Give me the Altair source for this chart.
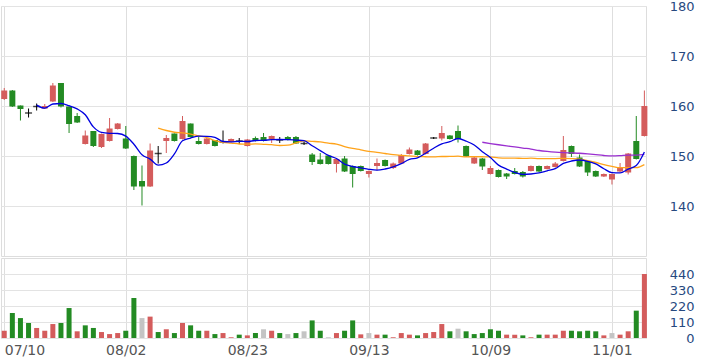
import altair as alt
import pandas as pd

tick_index = [0, 15, 30, 45, 60, 75]
tick_dates = ["07/10", "08/02", "08/23", "09/13", "10/09", "11/01"]
price_ticks = [140, 150, 160, 170, 180]
volume_ticks = [0, 110, 220, 330, 440]

opens = [161.4, 163.1, 160.1, 158.6, 159.9, 159.5, 160.9, 164.6, 159.9, 158.0,
         152.4, 155.0, 151.8, 153.0, 155.4, 153.5, 150.0, 145.0, 143.9, 150.5,
         153.0, 154.5, 153.4, 156.5, 153.0, 152.4, 153.2, 152.8, 152.8, 153.0,
         152.0, 153.6, 153.8, 153.4, 153.2, 153.8, 153.8, 152.5, 150.3, 149.3,
         150.1, 148.4, 149.5, 148.0, 148.0, 146.4, 148.0, 149.2, 147.6, 148.5,
         150.4, 151.1, 150.4, 153.6, 153.5, 154.1, 155.0, 152.0, 148.5, 149.5,
         146.4, 147.2, 146.5, 147.0, 146.8, 147.0, 148.0, 147.4, 147.8, 149.0,
         152.0, 149.7, 149.0, 147.0, 145.9, 145.3, 146.9, 146.7, 153.0, 154.0]
closes = [163.1, 159.9, 159.4, 158.6, 159.9, 160.0, 164.1, 159.9, 156.4, 156.7,
          154.1, 152.0, 154.4, 155.5, 156.5, 151.5, 143.9, 143.9, 151.1, 150.5,
          153.6, 153.0, 157.0, 153.8, 152.4, 153.5, 152.0, 152.8, 153.4, 153.0,
          153.3, 153.0, 153.0, 154.0, 153.2, 153.2, 152.5, 152.5, 148.8, 148.4,
          148.4, 149.4, 146.9, 146.4, 147.0, 147.0, 148.6, 148.0, 148.5, 150.2,
          151.3, 150.2, 152.5, 153.6, 154.6, 153.4, 153.4, 149.9, 149.7, 147.9,
          147.6, 145.8, 145.9, 146.4, 145.9, 148.0, 146.9, 148.0, 148.5, 151.2,
          150.4, 147.9, 146.7, 145.9, 146.4, 146.4, 147.7, 150.5, 149.4, 160.0]
highs = [163.6, 163.2, 160.1, 159.5, 160.5, 160.4, 164.6, 164.6, 159.9, 158.6,
         155.1, 155.0, 154.5, 157.6, 156.6, 156.0, 150.1, 148.1, 152.5, 152.0,
         154.2, 154.5, 158.0, 156.5, 153.9, 153.6, 153.2, 155.1, 153.5, 153.6,
         153.4, 153.9, 154.6, 154.1, 153.8, 154.0, 154.0, 152.9, 150.6, 150.6,
         150.2, 149.5, 150.0, 148.1, 148.1, 147.1, 149.5, 149.3, 148.7, 150.4,
         151.7, 151.2, 152.6, 153.8, 156.0, 154.2, 156.1, 152.1, 149.8, 149.6,
         148.0, 147.3, 146.6, 147.6, 147.0, 148.1, 148.1, 148.1, 148.8, 154.0,
         152.1, 150.3, 149.1, 147.1, 146.5, 146.5, 148.6, 150.6, 158.0, 163.1]
lows = [161.2, 159.8, 157.1, 157.7, 159.1, 159.4, 160.8, 159.7, 154.6, 156.6,
        152.3, 151.8, 151.6, 152.9, 155.3, 151.4, 143.2, 140.1, 143.8, 148.5,
        150.6, 152.9, 153.3, 153.7, 152.3, 152.3, 151.9, 152.5, 152.7, 152.4,
        151.9, 152.9, 152.9, 152.6, 152.6, 153.1, 152.4, 152.2, 148.2, 148.3,
        148.3, 146.7, 146.8, 143.7, 146.9, 145.7, 147.1, 147.9, 147.4, 148.4,
        150.3, 150.1, 150.3, 153.4, 153.1, 153.3, 152.7, 149.8, 148.4, 147.2,
        146.3, 145.7, 145.4, 146.3, 145.7, 146.9, 146.8, 147.3, 147.7, 148.9,
        149.8, 147.8, 146.0, 145.8, 145.8, 144.3, 146.8, 146.3, 149.3, 153.9]
volumes = [50, 172, 137, 103, 69, 50, 96, 103, 206, 46,
           87, 69, 41, 27, 34, 50, 275, 137, 147, 41,
           60, 34, 103, 87, 50, 50, 27, 34, 5, 23,
           18, 34, 60, 50, 34, 27, 34, 46, 121, 50,
           5, 34, 50, 121, 25, 34, 23, 23, 5, 34,
           23, 18, 34, 41, 96, 46, 64, 46, 27, 34,
           60, 50, 23, 23, 18, 5, 23, 23, 23, 50,
           50, 46, 50, 46, 18, 34, 23, 46, 188, 440]

ma5_start = 4
ma5 = [160.18, 159.56, 160.40, 160.50, 160.06, 159.42, 158.24, 155.82, 154.72, 154.54,
       154.50, 153.98, 152.36, 150.26, 149.38, 148.18, 148.60, 150.42, 153.04, 153.58,
       153.96, 153.94, 153.74, 152.90, 152.82, 152.94, 152.90, 153.10, 153.14, 153.26,
       153.30, 153.28, 153.18, 153.08, 152.04, 151.08, 150.12, 149.50, 148.38, 147.90,
       147.62, 147.34, 147.18, 147.40, 147.82, 148.46, 149.32, 149.64, 150.54, 151.56,
       152.44, 152.86, 153.50, 152.98, 152.20, 150.86, 149.70, 148.18, 147.38, 146.72,
       146.32, 146.40, 146.62, 147.04, 147.46, 148.52, 149.00, 149.20, 148.94, 148.42,
       147.46, 146.66, 146.62, 147.38, 148.08, 150.80]
ma20_start = 19
ma20 = [155.57, 155.10, 154.75, 154.63, 154.39, 154.02, 153.69, 153.09, 152.73, 152.58,
        152.40, 152.36, 152.41, 152.34, 152.26, 152.10, 152.18, 152.61, 153.04, 152.93,
        152.82, 152.56, 152.38, 151.88, 151.51, 151.24, 150.91, 150.74, 150.50, 150.26,
        150.12, 150.02, 149.88, 149.85, 149.83, 149.90, 149.91, 149.96, 149.83, 149.87,
        149.85, 149.81, 149.63, 149.58, 149.58, 149.52, 149.57, 149.49, 149.49, 149.49,
        149.54, 149.49, 149.38, 149.09, 148.70, 148.29, 147.94, 147.66, 147.69, 147.67,
        148.28]
ma60_start = 59
ma60 = [152.75, 152.49, 152.25, 152.03, 151.82, 151.59, 151.39, 151.10, 150.91, 150.77,
        150.68, 150.62, 150.55, 150.42, 150.26, 150.10, 150.01, 150.07, 150.18, 150.16,
        150.31]

n = len(closes)


def direction(a, b):
    return "up" if b > a else ("down" if b < a else "flat")


cdir = [direction(o, c) for o, c in zip(opens, closes)]
vdir = [cdir[0]] + [direction(closes[k - 1], closes[k]) for k in range(1, n)]

df = pd.DataFrame({"i": list(range(n)), "open": opens, "close": closes,
                   "high": highs, "low": lows, "vol": volumes,
                   "cdir": cdir, "vdir": vdir})


def ma_frame(start, vals):
    return pd.DataFrame({"i": list(range(start, start + len(vals))), "v": vals})


RED = "#d45c5c"
GREEN = "#238b23"
W = 645
xscale = alt.Scale(domain=[-0.4, 79.2], nice=False, zero=False, padding=0)
pscale = alt.Scale(domain=[130, 180], nice=False, zero=False, padding=0)
vscale = alt.Scale(domain=[0, 550], nice=False, zero=False, padding=0)

label_expr = " : ".join(f"datum.value == {k} ? '{d}'" for k, d in zip(tick_index, tick_dates)) + " : ''"

x_price = alt.X("i:Q", scale=xscale,
                axis=alt.Axis(values=tick_index, labels=False, ticks=False, domain=False,
                              grid=True, gridColor="#dedede", title=None))
y_axis_price = alt.Axis(orient="right", values=price_ticks, labelAlign="right", labelPadding=48,
                        labelFontSize=13, labelColor="#27497f", labelFont="DejaVu Sans",
                        grid=True, gridColor="#e3e3e3", ticks=False, domain=False,
                        title=None, labelOverlap=False, labelBaseline="middle")

cscale = alt.Scale(domain=["up", "down", "flat"], range=[RED, GREEN, "#000000"])

top_line = alt.Chart(pd.DataFrame({"v": [180]})).mark_rule(color="#b3a179", strokeWidth=1.5).encode(
    x=x_price, y=alt.Y("v:Q", scale=pscale, axis=y_axis_price))

wicks = alt.Chart(df).mark_rule(strokeWidth=1).encode(
    x=x_price,
    y=alt.Y("low:Q", scale=pscale, axis=y_axis_price),
    y2="high:Q",
    color=alt.Color("cdir:N", scale=cscale, legend=None))

bodies = alt.Chart(df).transform_filter("datum.cdir != 'flat'").mark_bar(size=6).encode(
    x=x_price,
    y=alt.Y("open:Q", scale=pscale, axis=y_axis_price),
    y2="close:Q",
    color=alt.Color("cdir:N", scale=cscale, legend=None))

doji = alt.Chart(df).transform_filter("datum.cdir == 'flat'").mark_tick(
    orient="horizontal", size=7, thickness=1.5, color="#000000").encode(
    x=x_price, y=alt.Y("close:Q", scale=pscale, axis=y_axis_price))


def ma_line(frame, color):
    return alt.Chart(frame).mark_line(color=color, strokeWidth=1.3, interpolate="monotone").encode(
        x=x_price, y=alt.Y("v:Q", scale=pscale, axis=y_axis_price))


price = alt.layer(top_line, wicks, bodies, doji,
                  ma_line(ma_frame(ma20_start, ma20), "#ffa31a"),
                  ma_line(ma_frame(ma60_start, ma60), "#9a2fd0"),
                  ma_line(ma_frame(ma5_start, ma5), "#0000e0")).properties(width=W, height=250)

x_vol = alt.X("i:Q", scale=xscale,
              axis=alt.Axis(values=tick_index, labelExpr=label_expr, ticks=False, domain=False,
                            grid=True, gridColor="#dedede", title=None,
                            labelAlign={"condition": {"test": "datum.value == 0", "value": "left"},
                                        "value": "center"},
                            labelFontSize=14, labelColor="#555555", labelFont="DejaVu Sans",
                            labelPadding=5, labelOverlap=False))
y_axis_vol = alt.Axis(orient="right", values=volume_ticks, labelAlign="right", labelPadding=48,
                      labelFontSize=13, labelColor="#27497f", labelFont="DejaVu Sans",
                      grid=True, gridColor="#e3e3e3", ticks=False, domain=False,
                      title=None, labelOverlap=False, labelBaseline="middle")
vscale_c = alt.Scale(domain=["up", "down", "flat"], range=[RED, GREEN, "#c4c4c4"])

vol_top = alt.Chart(pd.DataFrame({"v": [550]})).mark_rule(color="#e0e0e0", strokeWidth=3).encode(
    x=x_vol, y=alt.Y("v:Q", scale=vscale, axis=y_axis_vol))
vol_bars = alt.Chart(df).mark_bar(size=5).encode(
    x=x_vol,
    y=alt.Y("vol:Q", scale=vscale, axis=y_axis_vol),
    color=alt.Color("vdir:N", scale=vscale_c, legend=None))

volume = alt.layer(vol_top, vol_bars).properties(width=W, height=80)

chart = alt.vconcat(price, volume, spacing=0).resolve_scale(color="independent").properties(
    padding={"left": 0, "top": -1, "right": 0, "bottom": 0}
).configure_view(stroke=None).configure(background="white")

chart.save("out.html", embed_options={"renderer": "svg", "actions": False})
